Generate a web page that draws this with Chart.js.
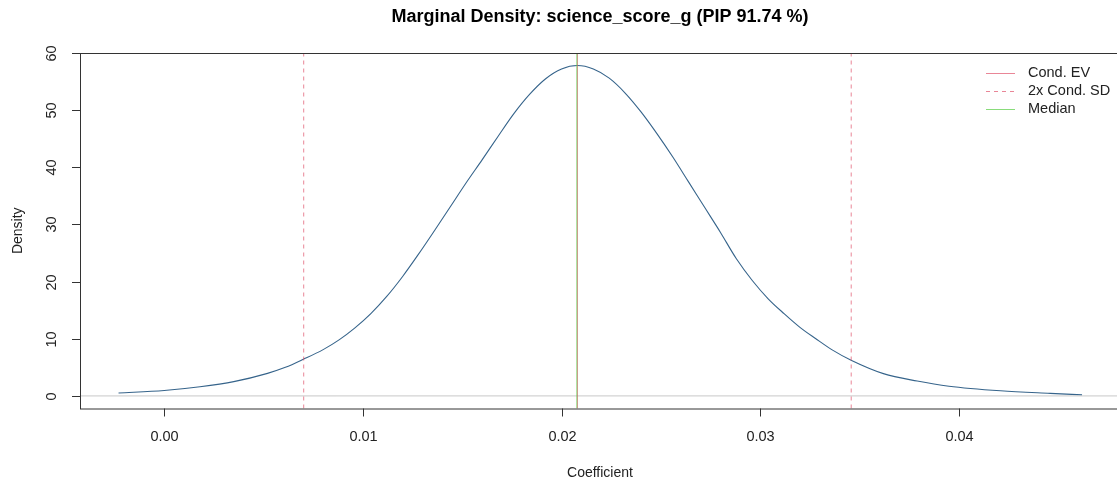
<!DOCTYPE html>
<html>
<head>
<meta charset="utf-8">
<title>Marginal Density</title>
<script src="https://cdn.jsdelivr.net/npm/chart.js@4.4.1/dist/chart.umd.min.js"></script>
<style>
  html, body { margin: 0; padding: 0; background: #fff; overflow: hidden; }
  #wrap { width: 1130px; height: 486px; }
</style>
</head>
<body>
<div id="wrap"><canvas id="dens"></canvas></div>
<script>
// posterior density of the coefficient
const coefGrid = [-0.0023, 0.0000, 0.0018, 0.0035, 0.0052, 0.0061, 0.0070, 0.0080, 0.0088, 0.0096,
                  0.0104, 0.0112, 0.0120, 0.0128, 0.0136, 0.0144, 0.0152, 0.0160, 0.0168, 0.0176,
                  0.0184, 0.0192, 0.0200, 0.0208, 0.0216, 0.0224, 0.0232, 0.0240, 0.0248, 0.0256,
                  0.0264, 0.0272, 0.0280, 0.0288, 0.0296, 0.0304, 0.0312, 0.0320, 0.0328, 0.0336,
                  0.0346, 0.0362, 0.0379, 0.0395, 0.0421, 0.0446, 0.0462];
const densityVals = [0.50, 0.95, 1.60, 2.50, 3.95, 5.00, 6.40, 8.10, 9.80, 11.9,
                     14.4, 17.4, 20.9, 24.8, 28.9, 33.1, 37.3, 41.3, 45.4, 49.4,
                     52.8, 55.5, 57.2, 57.8, 57.2, 55.6, 53.0, 49.7, 45.9, 41.8,
                     37.4, 33.0, 28.6, 24.0, 20.2, 17.0, 14.4, 12.0, 10.0, 8.1,
                     6.2, 3.9, 2.6, 1.7, 0.90, 0.45, 0.20];

const condEV = 0.0208;
const condSD = 0.00689;
const medianVal = 0.02077;

const xRange = [-0.00424, 0.04811];
const yRange = [-2.2, 60.0];
const xTickVals = [0.00, 0.01, 0.02, 0.03, 0.04];
const yTickVals = [0, 10, 20, 30, 40, 50, 60];

const legendLabels = ['Cond. EV', '2x Cond. SD', 'Median'];
const chartTitle = 'Marginal Density: science_score_g (PIP 91.74 %)';
const xTitle = 'Coefficient';
const yTitle = 'Density';

const FONT = "'Liberation Sans', Arial, sans-serif";
const RED = 'rgba(223,83,107,0.7)';
const GREEN = 'rgba(97,208,79,0.75)';
const BLUE = '#36648B';

function vline(v) {
  return [{ x: v, y: yRange[0] }, { x: v, y: yRange[1] }];
}

// base-graphics style frame, ticks, titles and legend
const rFrame = {
  id: 'rFrame',
  afterDraw(chart) {
    const ctx = chart.ctx;
    const a = chart.chartArea;
    const xs = chart.scales.x, ys = chart.scales.y;
    const tick = 8;
    ctx.save();
    ctx.strokeStyle = '#333';
    ctx.lineWidth = 1;
    ctx.strokeRect(a.left + 0.5, a.top + 0.5, a.right - a.left, a.bottom - a.top);

    ctx.fillStyle = '#222';
    ctx.font = '14.5px ' + FONT;
    ctx.textAlign = 'center';
    ctx.textBaseline = 'middle';
    xTickVals.forEach(v => {
      const px = Math.round(xs.getPixelForValue(v)) + 0.5;
      ctx.beginPath();
      ctx.moveTo(px, a.bottom);
      ctx.lineTo(px, a.bottom + tick);
      ctx.stroke();
      ctx.fillText(v.toFixed(2), px, 437);
    });
    yTickVals.forEach(v => {
      const py = Math.round(ys.getPixelForValue(v)) + 0.5;
      ctx.beginPath();
      ctx.moveTo(a.left - tick, py);
      ctx.lineTo(a.left, py);
      ctx.stroke();
      ctx.save();
      ctx.translate(52, py);
      ctx.rotate(-Math.PI / 2);
      ctx.fillText(String(v), 0, 0);
      ctx.restore();
    });

    ctx.font = '14px ' + FONT;
    ctx.fillText(xTitle, (a.left + a.right) / 2, 473);
    ctx.save();
    ctx.translate(18, (a.top + a.bottom) / 2);
    ctx.rotate(-Math.PI / 2);
    ctx.fillText(yTitle, 0, 0);
    ctx.restore();

    ctx.font = 'bold 18px ' + FONT;
    ctx.fillStyle = '#000';
    ctx.fillText(chartTitle, (a.left + a.right) / 2, 17);

    // legend
    const styles = [
      { color: RED, dash: [] },
      { color: RED, dash: [4, 4] },
      { color: GREEN, dash: [] }
    ];
    ctx.font = '14.5px ' + FONT;
    ctx.textAlign = 'left';
    legendLabels.forEach((lab, i) => {
      const y = 72.5 + i * 18;
      ctx.strokeStyle = styles[i].color;
      ctx.setLineDash(styles[i].dash);
      ctx.beginPath();
      ctx.moveTo(986, Math.round(y) + 0.5);
      ctx.lineTo(1015, Math.round(y) + 0.5);
      ctx.stroke();
      ctx.setLineDash([]);
      ctx.fillStyle = '#222';
      ctx.fillText(lab, 1028, y);
    });
    ctx.restore();
  }
};

new Chart(document.getElementById('dens'), {
  type: 'scatter',
  data: {
    datasets: [
      {
        label: 'zero',
        data: [{ x: xRange[0], y: 0 }, { x: xRange[1], y: 0 }],
        showLine: true, borderColor: '#c8c8c8', borderWidth: 1, pointRadius: 0, order: 5
      },
      {
        label: 'density',
        data: coefGrid.map((x, i) => ({ x: x, y: densityVals[i] })),
        showLine: true, borderColor: BLUE, borderWidth: 1.1, pointRadius: 0,
        cubicInterpolationMode: 'monotone', order: 4
      },
      {
        label: legendLabels[0],
        data: vline(condEV),
        showLine: true, borderColor: RED, borderWidth: 1, pointRadius: 0, order: 3
      },
      {
        label: legendLabels[1],
        data: vline(condEV - 2 * condSD),
        showLine: true, borderColor: RED, borderWidth: 1, borderDash: [4, 4], pointRadius: 0, order: 2
      },
      {
        label: legendLabels[1] + ' upper',
        data: vline(condEV + 2 * condSD),
        showLine: true, borderColor: RED, borderWidth: 1, borderDash: [4, 4], pointRadius: 0, order: 2
      },
      {
        label: legendLabels[2],
        data: vline(medianVal),
        showLine: true, borderColor: GREEN, borderWidth: 1, pointRadius: 0, order: 1
      }
    ]
  },
  options: {
    responsive: true,
    maintainAspectRatio: false,
    animation: false,
    layout: { padding: { left: 80, top: 53, right: 10, bottom: 77.5 } },
    plugins: { legend: { display: false }, tooltip: { enabled: false } },
    scales: {
      x: {
        type: 'linear', min: xRange[0], max: xRange[1],
        grid: { display: false, drawTicks: false },
        border: { display: false },
        ticks: { display: false }
      },
      y: {
        type: 'linear', min: yRange[0], max: yRange[1],
        grid: { display: false, drawTicks: false },
        border: { display: false },
        ticks: { display: false }
      }
    }
  },
  plugins: [rFrame]
});
</script>
</body>
</html>
